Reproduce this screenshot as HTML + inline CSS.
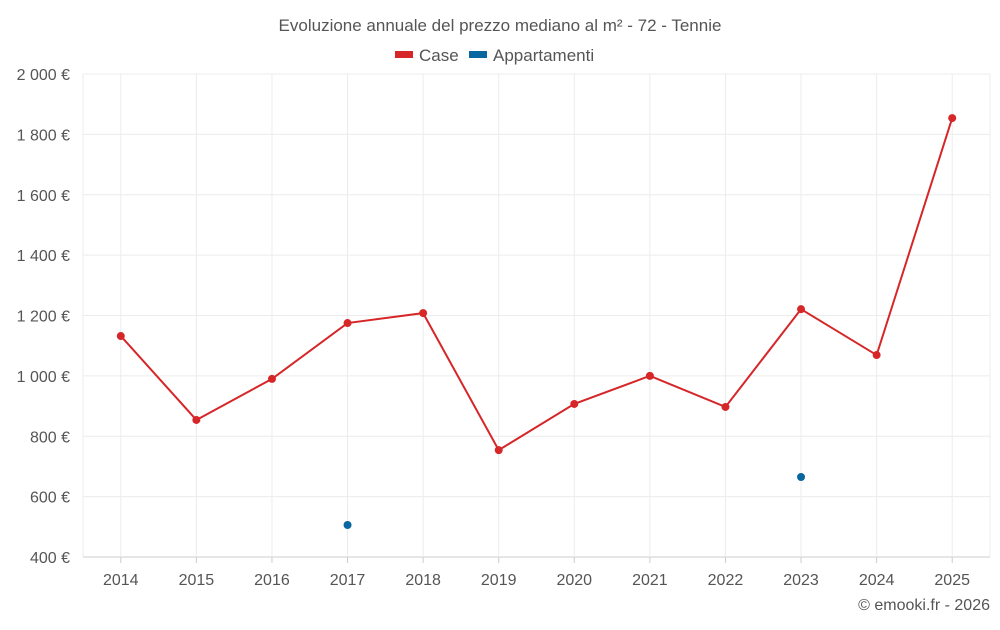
<!DOCTYPE html>
<html><head><meta charset="utf-8"><style>
body{margin:0;background:#fff;width:1000px;height:625px;overflow:hidden;font-family:"Liberation Sans",sans-serif;}
svg text{font-family:"Liberation Sans",sans-serif;fill:#555;}
</style></head><body>
<svg id="chart" width="1000" height="625">
<text x="500" y="31" text-anchor="middle" font-size="17">Evoluzione annuale del prezzo mediano al m² - 72 - Tennie</text>
<g>
<g><rect x="395" y="51" width="18" height="7" fill="#d62628"/><text x="419" y="61" font-size="17">Case</text></g>
<g><rect x="469" y="51" width="18" height="7" fill="#0867a1"/><text x="493" y="61" font-size="17">Appartamenti</text></g>
</g>
<g id="grid"></g><g id="axes"></g><g id="series"></g>
<text x="990" y="610" text-anchor="end" font-size="16">© emooki.fr - 2026</text>
</svg>
<script>
const years=[2014,2015,2016,2017,2018,2019,2020,2021,2022,2023,2024,2025];
const caseValues=[1132,854,990,1175,1208,754,907,1000,897,1221,1069,1854];
const apptValues=[null,null,null,506,null,null,null,null,null,665,null,null];
const yTicks=[400,600,800,1000,1200,1400,1600,1800,2000];
const yTickLabels=["400 €","600 €","800 €","1 000 €","1 200 €","1 400 €","1 600 €","1 800 €","2 000 €"];
const L=83,R=990,T=74,B=557,ymin=400,ymax=2000;
const NS="http://www.w3.org/2000/svg";
const step=(R-L)/years.length;
function x(i){return L+step*(i+0.5);}
function y(v){return B-(v-ymin)/(ymax-ymin)*(B-T);}
function mk(tag,attrs,parent){const e=document.createElementNS(NS,tag);for(const k in attrs)e.setAttribute(k,attrs[k]);document.getElementById(parent).appendChild(e);return e;}
yTicks.forEach((v,i)=>{
 const g=mk('line',{x1:L,x2:R,y1:y(v),y2:y(v),stroke:i==0?'#ccc':'#ececec','stroke-width':1},'grid');
 
 
 const t=mk('text',{x:70,y:y(v)+6,'text-anchor':'end','font-size':16},'axes');
 t.textContent=yTickLabels[i];
 
 
});
const lb=mk('line',{x1:L,x2:L,y1:T,y2:B,stroke:'#ececec'},'grid');


const rb=mk('line',{x1:R,x2:R,y1:T,y2:B,stroke:'#ececec'},'grid');


years.forEach((yr,i)=>{
 const g=mk('line',{x1:x(i),x2:x(i),y1:T,y2:B,stroke:'#ececec'},'grid');
 
 
 const tk=mk('line',{x1:x(i),x2:x(i),y1:B,y2:B+6,stroke:'#ccc'},'axes');
 
 
 const t=mk('text',{x:x(i),y:585,'text-anchor':'middle','font-size':16},'axes');
 t.textContent=yr;
 
 
});
const pts=caseValues.map((v,i)=>x(i)+','+y(v)).join(' ');
const pl=mk('polyline',{points:pts,fill:'none',stroke:'#d62628','stroke-width':2},'series');


caseValues.forEach((v,i)=>{
 const c=mk('circle',{cx:x(i),cy:y(v),r:4,fill:'#d62628'},'series');
 
 
});
apptValues.forEach((v,i)=>{
 if(v==null)return;
 const c=mk('circle',{cx:x(i),cy:y(v),r:4,fill:'#0867a1'},'series');
 
 
});
</script>
</body></html>
